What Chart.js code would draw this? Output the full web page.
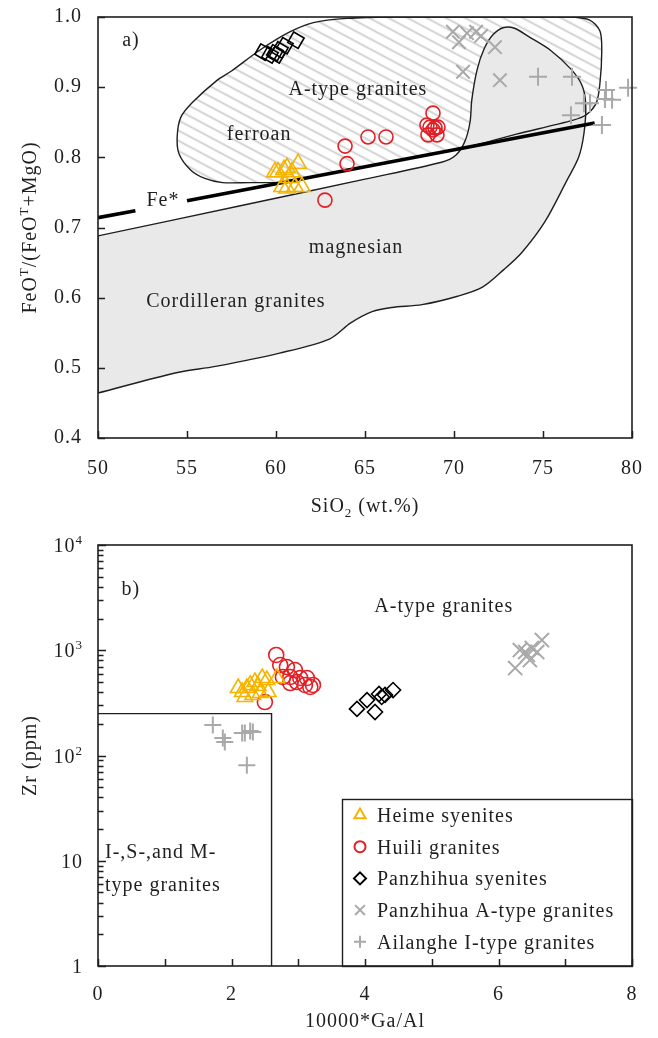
<!DOCTYPE html>
<html>
<head>
<meta charset="utf-8">
<script src="https://cdn.jsdelivr.net/npm/chart.js@4/dist/chart.umd.min.js"></script>
<style>
  html, body { margin: 0; padding: 0; background: #fff; }
  #wrap { position: relative; width: 658px; height: 1038px; }
  canvas { position: absolute; left: 0; }
  #panelA { top: 0; }
  #panelB { top: 519px; }
</style>
</head>
<body>
<div id="wrap">
  <canvas id="panelA" width="658" height="519"></canvas>
  <canvas id="panelB" width="658" height="519"></canvas>
</div>
<script>
// ---------- Panel a: SiO2 vs FeOT/(FeOT+MgO) ----------
const heimeSiO2 = [59.94, 60.11, 60.45, 60.62, 60.90, 61.24, 60.73, 60.34, 60.62, 61.07, 61.46];
const heimeFe   = [0.779, 0.779, 0.782, 0.785, 0.779, 0.791, 0.771, 0.758, 0.756, 0.758, 0.758];
const huiliSiO2 = [62.75, 63.88, 63.99, 65.17, 66.18, 68.82, 68.48, 68.65, 68.93, 69.10, 68.54, 69.04, 68.82];
const huiliFe   = [0.739, 0.816, 0.791, 0.829, 0.829, 0.863, 0.846, 0.843, 0.842, 0.843, 0.832, 0.832, 0.839];
const pzhSyeSiO2 = [59.27, 59.66, 59.94, 60.06, 60.22, 60.50, 61.12];
const pzhSyeFe   = [0.950, 0.946, 0.949, 0.946, 0.953, 0.959, 0.967];
const pzhASiO2 = [69.94, 70.28, 70.73, 71.24, 71.52, 72.30, 70.51, 72.58];
const pzhAFe   = [0.979, 0.964, 0.977, 0.979, 0.973, 0.957, 0.922, 0.910];
const ailSiO2 = [74.72, 76.63, 76.57, 77.30, 77.64, 78.54, 78.48, 78.88, 79.78, 78.31];
const ailFe   = [0.915, 0.915, 0.860, 0.877, 0.877, 0.896, 0.883, 0.882, 0.899, 0.846];

// A-type granite field outline (hatched)
const aFieldSiO2 = [60.3, 58.5, 57.0, 56.0, 55.2, 54.55, 54.45, 54.65, 55.3, 56.7, 57.5, 59.1, 60.8, 62.1, 64.0, 66.6, 71.5, 76.4, 77.6, 78.2, 78.3, 78.2, 78.0, 77.45, 76.7, 73.5, 70.3, 65.0, 60.3];
const aFieldFe   = [0.764, 0.764, 0.764, 0.770, 0.782, 0.805, 0.830, 0.857, 0.878, 0.910, 0.923, 0.953, 0.979, 0.992, 0.998, 1.0, 1.0, 1.0, 0.996, 0.980, 0.950, 0.906, 0.878, 0.861, 0.853, 0.833, 0.812, 0.787, 0.764];
// Cordilleran granite field outline (grey); repeated vertices keep the corners on the axis sharp
const cFieldSiO2 = [50, 50, 58, 65, 69.3, 70.1, 70.6, 70.9, 71.0, 71.3, 71.7, 72.2, 72.8, 73.4, 74.2, 75.4, 76.6, 77.2, 77.4, 77.3, 77.0, 76.3, 75.1, 73.8, 72.8, 71.6, 70.2, 68.2, 66.5, 65.4, 64.2, 63.0, 60.2, 56.6, 54.4, 50, 50, 50];
const cFieldFe   = [0.688, 0.688, 0.731, 0.769, 0.793, 0.803, 0.822, 0.850, 0.882, 0.925, 0.955, 0.975, 0.985, 0.984, 0.972, 0.953, 0.925, 0.902, 0.875, 0.834, 0.800, 0.765, 0.708, 0.664, 0.640, 0.615, 0.602, 0.590, 0.586, 0.580, 0.564, 0.541, 0.521, 0.502, 0.493, 0.464, 0.464, 0.688];
// Fe* ferroan / magnesian divide (broken around its label)
const feStarSiO2 = [50, 52.1, 55.0, 77.9];
const feStarRatio = [0.714, 0.724, 0.738, 0.849];

const siTicks = [50, 55, 60, 65, 70, 75, 80];
const feTicks = [0.4, 0.5, 0.6, 0.7, 0.8, 0.9, 1.0];

const panelALabels = [
  { text: 'a)', x: 51.85, y: 0.969 },
  { text: 'A-type granites', x: 64.6, y: 0.899 },
  { text: 'ferroan', x: 59.05, y: 0.835 },
  { text: 'Fe*', x: 53.65, y: 0.741 },
  { text: 'magnesian', x: 64.5, y: 0.674 },
  { text: 'Cordilleran granites', x: 57.75, y: 0.597 }
];

// ---------- Panel b: 10000*Ga/Al vs Zr ----------
const heimeGaAl = [2.16, 2.23, 2.28, 2.35, 2.46, 2.53, 2.68, 2.20, 2.32, 2.43, 2.55, 2.10, 2.40];
const heimeZr   = [401, 438, 468, 499, 545, 521, 545, 360, 376, 393, 401, 438, 457];
const huiliGaAl = [2.67, 2.73, 2.83, 2.95, 2.77, 2.88, 3.03, 3.13, 3.22, 3.18, 3.10, 2.98, 2.50, 2.88];
const huiliZr   = [902, 724, 693, 649, 557, 557, 545, 545, 468, 448, 468, 499, 322, 488];
const pzhSyeGaAl = [3.88, 4.03, 4.15, 4.21, 4.25, 4.30, 4.42];
const pzhSyeZr   = [277, 336, 259, 384, 360, 376, 419];
const pzhAGaAl = [6.25, 6.32, 6.40, 6.44, 6.50, 6.58, 6.65, 6.47];
const pzhAZr   = [678, 1005, 962, 902, 1049, 962, 1250, 807];
const ailGaAl = [1.72, 1.87, 1.90, 2.16, 2.20, 2.28, 2.32, 2.23];
const ailZr   = [195, 147, 134, 164, 164, 171, 167, 81];

// I-, S- and M-type field corner
const ismGaAl = [0, 2.6, 2.6];
const ismZr   = [250, 250, 1];

const gaTicks = [0, 1, 2, 3, 4, 5, 6, 7, 8];
const zrDecades = [1, 10, 100, 1000, 10000];

const panelBLabels = [
  { text: 'b)', x: 0.49, y: 3900 },
  { text: 'A-type granites', x: 5.18, y: 2690 },
  { text: 'I-,S-,and M-', x: 0.105, y: 12.4, align: 'left' },
  { text: 'type granites', x: 0.105, y: 6.0, align: 'left' }
];

const seriesNames = ['Heime syenites', 'Huili granites', 'Panzhihua syenites', 'Panzhihua A-type granites', 'Ailanghe I-type granites'];

// ---------- shared styling ----------
const FONT = "'Liberation Serif', 'Times New Roman', serif";
const INK = '#1f1f1f';
const ORANGE = '#f4b400';
const RED = '#e41e25';
const GREY = '#a9a9a9';

Chart.defaults.font.family = FONT;
Chart.defaults.font.size = 20;
Chart.defaults.color = INK;

const pts = (xs, ys) => xs.map((x, i) => ({ x, y: ys[i] }));

function markerSet(xs, ys, style, color, radius, extra) {
  return Object.assign({
    data: pts(xs, ys),
    showLine: false,
    pointStyle: style,
    pointRadius: radius,
    pointBorderColor: color,
    pointBackgroundColor: 'rgba(0,0,0,0)',
    pointBorderWidth: 1.6,
    borderColor: color,
    order: 1,
    clip: 14
  }, extra || {});
}

// keep the plot frame exactly where the axis sizes put it
function noOverflow(s) {
  s.paddingTop = 0; s.paddingBottom = 0; s.paddingLeft = 0; s.paddingRight = 0;
}

// draw a string made of normal / superscript / subscript runs, centred on (cx, cy)
function drawRich(ctx, runs, cx, cy, rot, align) {
  ctx.save();
  ctx.translate(cx, cy);
  ctx.rotate(rot || 0);
  ctx.letterSpacing = '1px';
  ctx.fillStyle = INK;
  ctx.textBaseline = 'alphabetic';
  ctx.textAlign = 'left';
  let total = 0;
  const parts = runs.map(([t, k]) => {
    const fs = k ? 13 : 20;
    ctx.font = fs + 'px ' + FONT;
    const w = ctx.measureText(t).width;
    total += w;
    return { t, k, fs, w };
  });
  let x = align === 'left' ? 0 : align === 'right' ? -total : -total / 2;
  parts.forEach(p => {
    ctx.font = p.fs + 'px ' + FONT;
    const dy = p.k === 'sup' ? -8 : p.k === 'sub' ? 5 : 0;
    ctx.fillText(p.t, x, 7 + dy);
    x += p.w;
  });
  ctx.restore();
}

const spacingPlugin = {
  id: 'spacing',
  beforeDraw(chart) { chart.ctx.letterSpacing = '1px'; }
};

function framePlugin(majorTest) {
  return {
    id: 'frame',
    afterDraw(chart) {
      const { ctx, chartArea: a } = chart;
      const xs = chart.scales.x, ys = chart.scales.y;
      ctx.save();
      ctx.strokeStyle = INK;
      ctx.lineWidth = 1.5;
      ctx.beginPath();
      xs.ticks.forEach(t => {
        const p = Math.round(xs.getPixelForValue(t.value)) + 0.5;
        ctx.moveTo(p, a.bottom);
        ctx.lineTo(p, a.bottom - 7);
      });
      ys.ticks.forEach(t => {
        const p = Math.round(ys.getPixelForValue(t.value)) + 0.5;
        const len = majorTest ? (majorTest(t.value) ? 8 : 5.5) : 7;
        ctx.moveTo(a.left, p);
        ctx.lineTo(a.left + len, p);
      });
      ctx.stroke();
      ctx.lineWidth = 1.6;
      ctx.strokeRect(a.left, a.top, a.right - a.left, a.bottom - a.top);
      ctx.restore();
    }
  };
}

function labelPlugin(items) {
  return {
    id: 'labels',
    afterDatasetsDraw(chart) {
      const xs = chart.scales.x, ys = chart.scales.y;
      items.forEach(it => {
        drawRich(chart.ctx, [[it.text, '']], xs.getPixelForValue(it.x), ys.getPixelForValue(it.y), 0, it.align);
      });
    }
  };
}

function titlePlugin(xRuns, yRuns, xTitleY) {
  return {
    id: 'titles',
    afterDraw(chart) {
      const a = chart.chartArea;
      drawRich(chart.ctx, xRuns, (a.left + a.right) / 2, xTitleY, 0);
      drawRich(chart.ctx, yRuns, 29, (a.top + a.bottom) / 2, -Math.PI / 2);
    }
  };
}

function hatchPattern(ctx) {
  const tile = document.createElement('canvas');
  tile.width = 9; tile.height = 9;
  const c = tile.getContext('2d');
  c.strokeStyle = '#cbcbcb';
  c.lineWidth = 1.7;
  c.beginPath(); c.moveTo(0, 4.5); c.lineTo(9, 4.5); c.stroke();
  const p = ctx.createPattern(tile, 'repeat');
  p.setTransform(new DOMMatrix().rotateSelf(28));
  return p;
}

// ---------- Panel a ----------
const ctxA = document.getElementById('panelA').getContext('2d');
new Chart(ctxA, {
  type: 'line',
  data: {
    datasets: [
      { data: pts(aFieldSiO2, aFieldFe), fill: 'shape', backgroundColor: hatchPattern(ctxA), borderColor: INK, borderWidth: 1.4, pointRadius: 0, tension: 0.3, order: 20 },
      { data: pts(cFieldSiO2, cFieldFe), fill: 'shape', backgroundColor: '#e9e9e9', borderColor: INK, borderWidth: 1.4, pointRadius: 0, tension: 0.3, order: 19 },
      { data: pts(feStarSiO2.slice(0, 2), feStarRatio.slice(0, 2)), borderColor: '#000', borderWidth: 3.6, borderCapStyle: 'butt', pointRadius: 0, tension: 0, fill: false, order: 10 },
      { data: pts(feStarSiO2.slice(2), feStarRatio.slice(2)), borderColor: '#000', borderWidth: 3.6, borderCapStyle: 'butt', pointRadius: 0, tension: 0, fill: false, order: 10 },
      markerSet(pzhASiO2, pzhAFe, 'crossRot', GREY, 9.5, { pointBorderWidth: 2 }),
      markerSet(ailSiO2, ailFe, 'cross', GREY, 9, { pointBorderWidth: 2 }),
      markerSet(pzhSyeSiO2, pzhSyeFe, 'rect', '#000', 8.5, { pointRotation: 30 }),
      markerSet(heimeSiO2, heimeFe, 'triangle', ORANGE, 9.5),
      markerSet(huiliSiO2, huiliFe, 'circle', RED, 7)
    ]
  },
  options: {
    responsive: false,
    animation: false,
    events: [],
    layout: { padding: { top: 17, right: 26, left: 0, bottom: 0 } },
    plugins: { legend: { display: false }, tooltip: { enabled: false }, filler: { drawTime: 'beforeDatasetsDraw' } },
    scales: {
      x: {
        type: 'linear', min: siTicks[0], max: siTicks[siTicks.length - 1],
        afterBuildTicks: s => { s.ticks = siTicks.map(v => ({ value: v })); },
        ticks: { padding: 19, maxRotation: 0, autoSkip: false, color: INK, callback: v => String(v) },
        grid: { display: false, drawTicks: false }, border: { display: false },
        afterFit: s => { s.height = 81; noOverflow(s); }
      },
      y: {
        type: 'linear', min: feTicks[0], max: feTicks[feTicks.length - 1],
        afterBuildTicks: s => { s.ticks = feTicks.map(v => ({ value: v })); },
        ticks: { padding: 16, color: INK, callback: v => Number(v).toFixed(1) },
        grid: { display: false, drawTicks: false }, border: { display: false },
        afterFit: s => { s.width = 98; noOverflow(s); }
      }
    }
  },
  plugins: [spacingPlugin, framePlugin(null), labelPlugin(panelALabels),
    titlePlugin([['SiO', ''], ['2', 'sub'], [' (wt.%)', '']], [['FeO', ''], ['T', 'sup'], ['/(FeO', ''], ['T', 'sup'], ['+MgO)', '']], 505)]
});

// ---------- Panel b ----------
const zrTickValues = [];
zrDecades.forEach(d => {
  for (let m = 1; m <= 9; m++) {
    if (d * m <= zrDecades[zrDecades.length - 1]) zrTickValues.push(d * m);
  }
});

const legendStyles = [
  { pointStyle: 'triangle', color: ORANGE, radius: 6.5, width: 2 },
  { pointStyle: 'circle', color: RED, radius: 5.5, width: 2 },
  { pointStyle: 'rectRot', color: '#000', radius: 6, width: 2 },
  { pointStyle: 'crossRot', color: GREY, radius: 7, width: 2 },
  { pointStyle: 'cross', color: GREY, radius: 6, width: 2 }
];

const legendPlugin = {
  id: 'boxLegend',
  afterDraw(chart) {
    const { ctx, chartArea: a } = chart;
    const left = 342, top = 280;
    ctx.save();
    ctx.strokeStyle = INK;
    ctx.lineWidth = 1.4;
    ctx.strokeRect(left + 0.5, top + 0.5, a.right - left, a.bottom - top);
    seriesNames.forEach((name, i) => {
      const y = top + 16 + i * 31.7;
      const st = legendStyles[i];
      ctx.strokeStyle = st.color;
      ctx.fillStyle = 'rgba(0,0,0,0)';
      ctx.lineWidth = st.width;
      Chart.helpers.drawPoint(ctx, { pointStyle: st.pointStyle, radius: st.radius, rotation: 0, borderWidth: st.width }, 360, y);
      drawRich(ctx, [[name, '']], 377, y, 0, 'left');
    });
    ctx.restore();
  }
};

const zrLabelPlugin = {
  id: 'zrLabels',
  afterDraw(chart) {
    const ys = chart.scales.y, a = chart.chartArea;
    zrDecades.forEach(v => {
      const y = ys.getPixelForValue(v);
      const exp = Math.round(Math.log10(v));
      const runs = exp >= 2 ? [['10', ''], [String(exp), 'sup']] : [[String(v), '']];
      drawRich(chart.ctx, runs, a.left - 15, y, 0, 'right');
    });
  }
};

const ctxB = document.getElementById('panelB').getContext('2d');
new Chart(ctxB, {
  type: 'line',
  data: {
    datasets: [
      { data: pts(ismGaAl, ismZr), borderColor: INK, borderWidth: 1.4, pointRadius: 0, tension: 0, fill: false, order: 20 },
      markerSet(pzhAGaAl, pzhAZr, 'crossRot', GREY, 10, { pointBorderWidth: 2 }),
      markerSet(ailGaAl, ailZr, 'cross', GREY, 8.5, { pointBorderWidth: 2 }),
      markerSet(pzhSyeGaAl, pzhSyeZr, 'rectRot', '#000', 7.5),
      markerSet(heimeGaAl, heimeZr, 'triangle', ORANGE, 9),
      markerSet(huiliGaAl, huiliZr, 'circle', RED, 7.5)
    ]
  },
  options: {
    responsive: false,
    animation: false,
    events: [],
    layout: { padding: { top: 26, right: 26, left: 0, bottom: 0 } },
    plugins: { legend: { display: false }, tooltip: { enabled: false } },
    scales: {
      x: {
        type: 'linear', min: gaTicks[0], max: gaTicks[gaTicks.length - 1],
        afterBuildTicks: s => { s.ticks = gaTicks.map(v => ({ value: v })); },
        ticks: { padding: 17, maxRotation: 0, autoSkip: false, color: INK, callback: v => (v % 2 === 0 ? String(v) : '') },
        grid: { display: false, drawTicks: false }, border: { display: false },
        afterFit: s => { s.height = 72; noOverflow(s); }
      },
      y: {
        type: 'logarithmic', min: zrDecades[0], max: zrDecades[zrDecades.length - 1],
        afterBuildTicks: s => { s.ticks = zrTickValues.map(v => ({ value: v })); },
        ticks: { display: false },
        grid: { display: false, drawTicks: false }, border: { display: false },
        afterFit: s => { s.width = 98; noOverflow(s); }
      }
    }
  },
  plugins: [spacingPlugin, framePlugin(v => zrDecades.includes(v)), labelPlugin(panelBLabels), zrLabelPlugin, legendPlugin,
    titlePlugin([['10000*Ga/Al', '']], [['Zr (ppm)', '']], 501)]
});
</script>
</body>
</html>
